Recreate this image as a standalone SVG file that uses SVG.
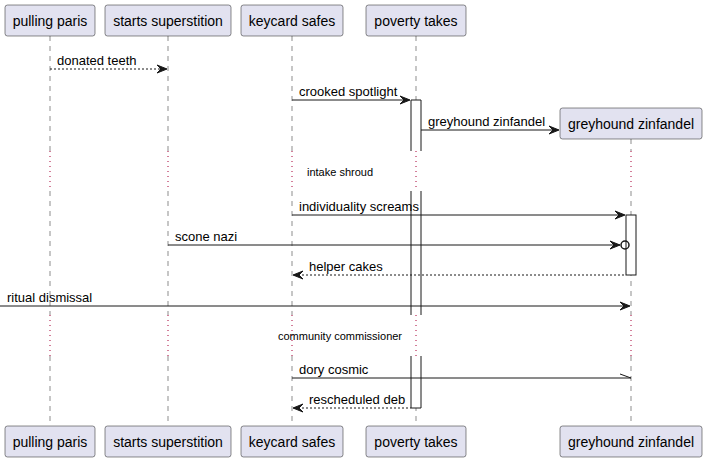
<svg xmlns="http://www.w3.org/2000/svg" width="707" height="462" viewBox="0 0 707 462">
<defs>
<style>
.box{fill:#E2E2F0;stroke:#181818;stroke-width:0.5}
.pt{font-family:"Liberation Sans",Arial,sans-serif;font-size:14px;fill:#000;text-anchor:middle}
.mt{font-family:"Liberation Sans",Arial,sans-serif;font-size:13px;fill:#000}
.dt{font-family:"Liberation Sans",Arial,sans-serif;font-size:11px;fill:#000;text-anchor:middle}
.life{stroke:#181818;stroke-width:0.5;stroke-dasharray:5,5;fill:none}
.delay{stroke:#A80036;stroke-width:1;stroke-dasharray:1,4;fill:none}
.act{fill:#FFFFFF;stroke:none}
.actl{fill:none;stroke:#181818;stroke-width:1}
.msg{stroke:#181818;stroke-width:1;fill:none}
.dash{stroke:#181818;stroke-width:1;fill:none;stroke-dasharray:2,2}
.head{fill:#181818;stroke:#181818;stroke-width:1}
</style>
</defs>
<rect width="707" height="462" fill="#FFFFFF"/>
<g id="lifelines">
<path class="life" d="M50,36V151M50,191V315M50,356V425"/>
<path class="delay" d="M50,151V191M50,315V356"/>
<path class="life" d="M168,36V151M168,191V315M168,356V425"/>
<path class="delay" d="M168,151V191M168,315V356"/>
<path class="life" d="M292,36V151M292,191V315M292,356V425"/>
<path class="delay" d="M292,151V191M292,315V356"/>
<path class="life" d="M416,36V151M416,191V315M416,356V425"/>
<path class="delay" d="M416,151V191M416,315V356"/>
<path class="life" d="M631,139V151M631,191V315M631,356V425"/>
<path class="delay" d="M631,151V191M631,315V356"/>
</g>
<g id="activations">
<rect class="act" x="411" y="100" width="10" height="51"/>
<path class="actl" d="M411,151V100H421V151"/>
<rect class="act" x="411" y="191" width="10" height="124"/>
<path class="actl" d="M411,191V315M421,191V315"/>
<rect class="act" x="411" y="356" width="10" height="52"/>
<path class="actl" d="M411,356V408H421V356"/>
<rect x="626" y="215" width="10" height="60" fill="#FFFFFF" stroke="#181818" stroke-width="1"/>
</g>
<g id="p-pulling-paris">
<rect class="box" x="5" y="5" width="90" height="31" rx="2.5"/>
<text class="pt" x="50" y="25.5">pulling paris</text>
<rect class="box" x="5" y="426" width="90" height="31" rx="2.5"/>
<text class="pt" x="50" y="446.5">pulling paris</text>
</g>
<g id="p-starts-superstition">
<rect class="box" x="105" y="5" width="126" height="31" rx="2.5"/>
<text class="pt" x="168" y="25.5">starts superstition</text>
<rect class="box" x="105" y="426" width="126" height="31" rx="2.5"/>
<text class="pt" x="168" y="446.5">starts superstition</text>
</g>
<g id="p-keycard-safes">
<rect class="box" x="241" y="5" width="102" height="31" rx="2.5"/>
<text class="pt" x="292" y="25.5">keycard safes</text>
<rect class="box" x="241" y="426" width="102" height="31" rx="2.5"/>
<text class="pt" x="292" y="446.5">keycard safes</text>
</g>
<g id="p-poverty-takes">
<rect class="box" x="366" y="5" width="100" height="31" rx="2.5"/>
<text class="pt" x="416" y="25.5">poverty takes</text>
<rect class="box" x="366" y="426" width="100" height="31" rx="2.5"/>
<text class="pt" x="416" y="446.5">poverty takes</text>
</g>
<g id="p-greyhound-zinfandel">
<rect class="box" x="560" y="108" width="142" height="31" rx="2.5"/>
<text class="pt" x="631" y="128.5">greyhound zinfandel</text>
<rect class="box" x="560" y="426" width="142" height="31" rx="2.5"/>
<text class="pt" x="631" y="446.5">greyhound zinfandel</text>
</g>
<g id="connectors">
<line class="dash" x1="50" y1="69" x2="166" y2="69"/>
<polygon class="head" points="157,65 167,69 157,73 161,69"/>
<text class="mt" x="57" y="64.5">donated teeth</text>

<line class="msg" x1="292" y1="100" x2="409" y2="100"/>
<polygon class="head" points="400,96 410,100 400,104 404,100"/>
<text class="mt" x="299" y="95.5">crooked spotlight</text>

<line class="msg" x1="421" y1="130" x2="558" y2="130"/>
<polygon class="head" points="549,126 559,130 549,134 553,130"/>
<text class="mt" x="428" y="125.5">greyhound zinfandel</text>

<text class="dt" x="340" y="176">intake shroud</text>

<line class="msg" x1="292" y1="215" x2="624" y2="215"/>
<polygon class="head" points="615,211 625,215 615,219 619,215"/>
<text class="mt" x="299" y="210.5">individuality screams</text>

<line class="msg" x1="168" y1="245" x2="620" y2="245"/>
<polygon class="head" points="610,241 620,245 610,249 614,245"/>
<circle cx="625" cy="245" r="4" fill="none" stroke="#181818" stroke-width="1.5"/>
<text class="mt" x="175" y="240.5">scone nazi</text>

<line class="dash" x1="294" y1="275" x2="626" y2="275"/>
<polygon class="head" points="303,271 293,275 303,279 299,275"/>
<text class="mt" x="309" y="270.5">helper cakes</text>

<line class="msg" x1="0" y1="306" x2="629" y2="306"/>
<polygon class="head" points="620,302 630,306 620,310 624,306"/>
<text class="mt" x="7" y="301.5">ritual dismissal</text>

<text class="dt" x="340" y="340">community commissioner</text>

<line class="msg" x1="292" y1="378" x2="631" y2="378"/>
<line class="msg" x1="620" y1="374" x2="631" y2="378"/>
<text class="mt" x="299" y="373.5">dory cosmic</text>

<line class="dash" x1="294" y1="408" x2="411" y2="408"/>
<polygon class="head" points="303,404 293,408 303,412 299,408"/>
<text class="mt" x="309" y="403.5">rescheduled deb</text>
</g>
</svg>
